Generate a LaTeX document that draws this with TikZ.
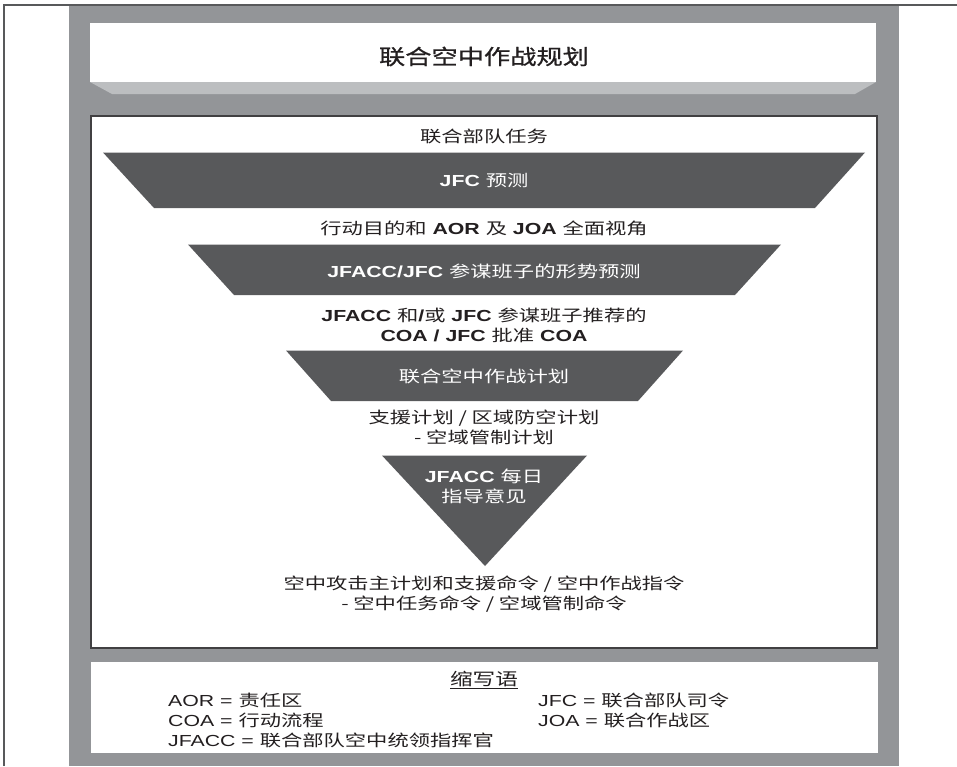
\documentclass[tikz,border=0pt]{standalone}
\usepackage{fontspec}
\setmainfont{Liberation Sans}[FakeStretch=1.33]
\newfontfamily\cjk{Noto Sans CJK SC}[FakeStretch=1.33]
\newfontfamily\cjktitle{Noto Sans CJK SC}[FakeStretch=1.25, FakeBold=0.8]
\newcommand\zh[1]{{\cjk #1}}
\definecolor{band}{HTML}{939598}
\definecolor{bevel}{HTML}{BCBEC0}
\definecolor{dark}{HTML}{58595B}
\definecolor{edge}{HTML}{414042}
\definecolor{ink}{HTML}{231F20}
\tikzset{
  txt/.style={inner sep=0pt, text=ink, align=center, font=\fontsize{16}{20}\selectfont},
  wtxt/.style={txt, text=white},
  ttl/.style={inner sep=0pt, text=ink, font=\fontsize{21}{24}\selectfont\cjktitle},
  leg/.style={inner sep=0pt, text=ink, anchor=west, font=\fontsize{16}{20}\selectfont},
  funnel/.style={fill=dark, draw=none},
}
\begin{document}
\begin{tikzpicture}[x=1pt,y=-1pt]
\useasboundingbox (0,0) rectangle (957,766);
% outer frame lines and grey band
\fill[band] (69,5) rectangle (899,766);
\draw[dark, line width=1.5pt] (4,766) -- (4,5) -- (957,5);
% title box with bevel
\fill[white] (90,23) rectangle (876,82);
\fill[bevel] (90,82) -- (876,82) -- (855,94) -- (112,94) -- cycle;
\node[ttl] (title) at (484,56.5) {联合空中作战规划};
% main box
\draw[fill=white, draw=edge, line width=1.5pt] (91,116) rectangle (877,648);
% funnel shapes
\fill[funnel] (103,152.5) -- (865,152.5) -- (815,208) -- (154,208) -- cycle;
\fill[funnel] (188,244.5) -- (781,244.5) -- (735,295) -- (234,295) -- cycle;
\fill[funnel] (286,350.5) -- (683,350.5) -- (638,401) -- (331,401) -- cycle;
\fill[funnel] (382,455.5) -- (587,455.5) -- (485,566) -- cycle;
% texts
\node[txt] (mission) at (484,136) {\zh{联合部队任务}};
\node[wtxt] (jfcest) at (484,180) {\textbf{JFC} \zh{预测}};
\node[txt] (purpose) at (484,228) {\zh{行动目的和} \textbf{AOR} \zh{及} \textbf{JOA} \zh{全面视角}};
\node[wtxt] (staffest) at (484,271) {\textbf{JFACC/JFC} \zh{参谋班子的形势预测}};
\node[txt] (coa) at (484,325) {\textbf{JFACC} \zh{和}\textbf{/}\zh{或} \textbf{JFC} \zh{参谋班子推荐的}\\\textbf{COA / JFC} \zh{批准} \textbf{COA}};
\node[wtxt] (jaoplan) at (484,376) {\zh{联合空中作战计划}};
\node[txt] (support) at (484,427) {\zh{支援计划 / 区域防空计划}\\\zh{- 空域管制计划}};
\node[wtxt] (daily) at (484,486) {\textbf{JFACC} \zh{每日}\\\zh{指导意见}};
\node[txt] (orders) at (484,594.5) {\zh{空中攻击主计划和支援命令 / 空中作战指令}\\\zh{- 空中任务命令 / 空域管制命令}};
% legend
\fill[white] (91,662) rectangle (878,753);
\node[txt, font=\fontsize{17}{20}\selectfont] (legtitle) at (484,680) {\underline{\zh{缩写语}}};
\node[leg] (aor) at (168,700) {AOR = \zh{责任区}};
\node[leg] (coal) at (168,720) {COA = \zh{行动流程}};
\node[leg] (jfacc) at (168,740) {JFACC = \zh{联合部队空中统领指挥官}};
\node[leg] (jfc) at (538,700) {JFC = \zh{联合部队司令}};
\node[leg] (joa) at (538,720) {JOA = \zh{联合作战区}};
\end{tikzpicture}
\end{document}
